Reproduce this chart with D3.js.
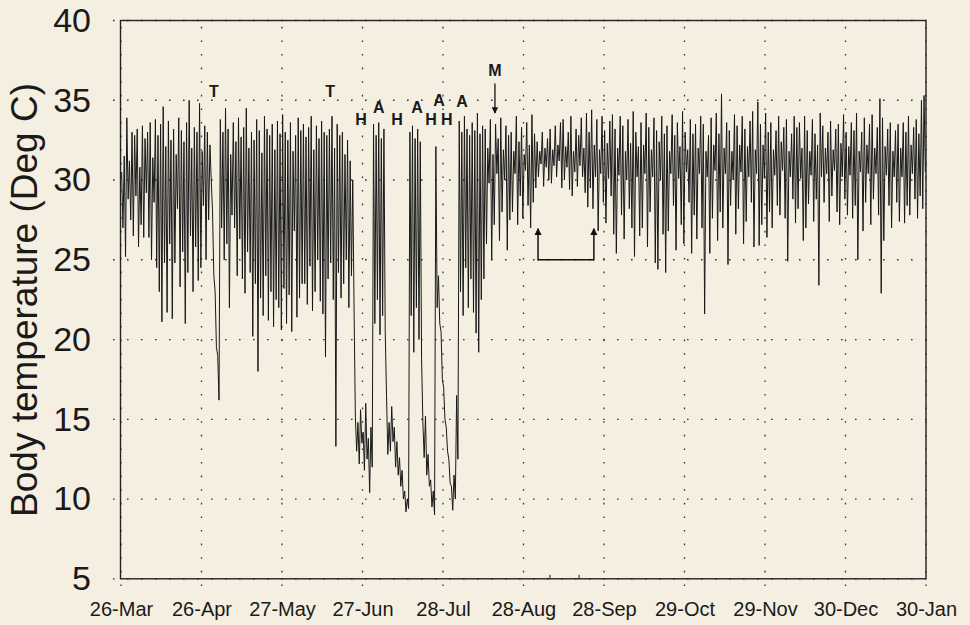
<!DOCTYPE html>
<html>
<head>
<meta charset="utf-8">
<script src="https://cdn.jsdelivr.net/npm/d3@7"></script>
<style>
  body { margin: 0; background: #f4efe1; }
  svg { display: block; }
  text { font-family: "Liberation Sans", Arial, Helvetica, sans-serif; fill: #1a1a1a; }
</style>
</head>
<body>
<div id="chart"></div>
<script>
// x axis: days since 26-Mar, one tick every 31 days
var tickDays = [0, 31, 62, 93, 124, 155, 186, 217, 248, 279, 310];
var tickLabels = ["26-Mar", "26-Apr", "27-May", "27-Jun", "28-Jul", "28-Aug",
                  "28-Sep", "29-Oct", "29-Nov", "30-Dec", "30-Jan"];
var tempTicks = [5, 10, 15, 20, 25, 30, 35, 40];

// daily maximum / minimum body temperature (deg C)
var dayHigh = [
  30.5, 31.5, 33.9, 31.2, 33.0, 32.8, 33.2, 30.8, 33.4, 32.6,
  33.0, 33.6, 31.4, 33.8, 32.8, 33.5, 34.6, 32.1, 33.7, 32.5,
  33.2, 31.6, 33.9, 33.1, 32.4, 33.6, 35.0, 32.0, 33.3, 33.0,
  34.8, 31.8, 33.4, 33.0, 32.2, 28.0, 23.0, 19.0, 33.8, 33.0,
  34.5, 33.2, 31.6, 33.6, 32.4, 33.9, 32.7, 33.3, 34.5, 32.0,
  33.0, 32.5, 33.8, 33.1, 31.7, 34.0, 33.2, 32.8, 33.5, 31.9,
  33.7, 32.9, 34.1, 33.0, 32.5, 33.6, 31.8, 32.8, 33.9, 33.1,
  33.5, 32.7, 33.3, 34.0, 31.9, 33.4, 32.6, 33.7, 33.0, 32.8,
  33.2, 34.0, 32.0, 33.5, 32.8, 33.0, 31.6, 32.5, 31.2, 30.0,
  15.2, 14.8, 15.6, 14.2, 16.0, 13.8, 14.5, 33.5, 32.8, 33.6,
  32.6, 33.2, 16.5, 14.8, 15.8, 14.5, 13.6, 12.6, 11.8, 10.5,
  10.0, 33.0, 33.4, 32.6, 33.2, 32.4, 14.8, 15.2, 12.8, 11.2,
  10.5, 32.1, 24.0, 20.5, 17.0, 14.5, 12.5, 10.8, 11.5, 16.5,
  33.7, 33.0, 34.0, 33.2, 32.8, 33.6, 33.1, 34.2, 32.9, 33.4,
  33.2, 32.0, 33.8, 31.6, 33.5, 32.6, 33.9, 31.9, 33.4, 32.8,
  33.0, 31.8, 34.0, 32.4, 33.3, 31.6, 33.6, 32.2, 34.1, 32.9,
  32.4, 31.8, 33.0, 32.0, 32.6, 33.2, 31.9, 33.4, 32.2, 33.6,
  33.8, 32.1, 33.0, 34.0, 31.8, 33.2, 32.8, 33.9, 32.0, 34.2,
  33.0, 34.4, 32.2, 33.8, 31.9, 34.0, 33.1, 32.3, 33.7, 34.1,
  33.2, 32.0, 34.0, 33.4, 31.8, 33.8, 32.3, 34.3, 33.0, 32.1,
  33.6, 32.2, 34.2, 33.3, 31.9, 33.9, 33.1, 32.4, 34.0, 32.9,
  33.4, 31.8, 34.1, 32.8, 33.6, 32.1, 34.3, 33.0, 31.9, 33.8,
  32.9, 33.5, 32.0, 34.0, 33.5, 31.8, 32.8, 33.9, 32.2, 34.2,
  32.9, 35.4, 32.0, 33.6, 33.1, 31.8, 34.1, 33.4, 32.2, 34.0,
  33.2, 32.1, 33.7, 34.3, 31.9, 34.9, 33.5, 32.2, 34.2, 33.0,
  33.6, 31.9, 33.1, 34.0, 32.4, 33.3, 33.8, 31.8, 32.9, 34.0,
  33.3, 33.6, 32.0, 34.0, 33.1, 31.8, 33.8, 32.9, 32.2, 34.2,
  33.4, 32.0, 33.0, 33.7, 31.9, 33.2, 33.5, 32.3, 34.1, 33.0,
  32.1, 33.6, 33.1, 34.2, 31.8, 33.0, 33.9, 32.2, 33.5, 34.1,
  32.0, 33.3, 35.1, 33.9, 32.1, 33.2, 33.6, 31.8, 33.1, 33.5,
  32.0, 33.6, 33.0, 34.0, 32.2, 33.3, 33.8, 32.9, 35.0, 35.3
];
var dayLow = [
  27.0, 25.2, 28.8, 27.5, 26.5, 29.0, 25.8, 27.2, 26.4, 29.2,
  26.4, 25.0, 28.6, 24.5, 23.0, 21.1, 24.8, 21.7, 26.0, 21.3,
  24.8, 28.2, 23.3, 25.5, 21.0, 24.2, 26.5, 23.0, 25.8, 23.7,
  24.5, 28.4, 25.0, 27.5, 30.0, 24.0, 19.5, 16.2, 27.0, 25.0,
  26.0, 22.0, 27.8, 27.0, 24.0, 26.3, 23.8, 22.9, 25.5, 24.2,
  20.2, 23.5, 18.0, 22.6, 21.5, 24.0, 21.2, 23.0, 20.8, 22.5,
  22.0, 20.6, 23.2, 21.0, 22.8, 20.5, 26.8, 21.4, 22.6, 23.5,
  23.5, 22.2, 24.6, 21.8, 23.0, 25.0, 22.4, 21.6, 18.9, 23.8,
  24.8, 22.5, 13.3, 24.2, 22.6, 23.5, 25.0, 22.0, 24.0, 22.0,
  13.0, 12.2, 13.5, 11.8, 12.5, 10.4, 12.0, 21.0, 22.5, 20.3,
  21.5, 20.5, 12.8, 13.0, 13.6, 12.0, 11.5, 10.8, 10.0, 9.2,
  9.4, 21.5, 19.2, 22.0, 20.0, 18.8, 12.6, 11.5, 10.8, 9.5,
  9.0, 22.0, 21.0, 17.5, 15.0, 13.0, 11.0, 9.3, 10.0, 12.5,
  23.0, 21.5, 24.5, 22.0, 23.8, 21.7, 20.4, 19.2, 22.5, 23.8,
  26.0, 29.8, 25.0, 27.2, 30.4, 26.2, 28.0, 30.0, 25.6, 27.5,
  28.0, 30.4, 27.2, 29.0, 27.6, 30.6, 28.4, 27.0, 28.6, 29.5,
  30.2, 31.0, 29.6, 30.8, 30.0, 29.8, 30.9, 30.2, 31.2, 29.5,
  30.0, 30.8, 29.4, 29.0, 30.5, 29.6, 30.9, 30.2, 29.2, 28.3,
  29.5, 28.2, 30.2, 26.8, 30.4, 28.6, 27.3, 30.1, 29.0, 26.6,
  25.4, 30.3, 27.8, 26.3, 30.0, 28.2, 27.0, 25.2, 30.2, 26.5,
  27.0, 30.4, 25.8, 28.0, 30.2, 24.8, 24.4, 30.0, 26.6, 24.2,
  26.8, 30.4, 28.4, 25.6, 30.1, 27.2, 26.0, 30.5, 28.6, 25.4,
  27.8, 26.3, 30.4, 27.0, 21.6, 30.2, 25.4, 27.6, 30.6, 26.2,
  28.0, 27.0, 30.4, 24.7, 28.4, 30.0, 26.6, 28.2, 30.5, 26.0,
  27.4, 30.2, 28.6, 25.8, 30.4, 25.9, 27.2, 30.1, 26.4, 28.0,
  27.0, 30.3, 28.4, 27.8, 30.6, 27.6, 24.9, 30.2, 28.8, 27.3,
  28.2, 30.1, 26.2, 27.0, 28.5, 30.3, 27.4, 28.8, 23.4, 30.2,
  28.6, 30.4, 27.4, 29.0, 30.6, 28.0, 27.2, 30.2, 28.8, 27.8,
  30.3, 27.6, 28.4, 25.0, 30.5, 26.8, 28.6, 30.4, 27.2, 28.8,
  30.4, 27.8, 22.9, 26.2, 30.3, 28.4, 27.0, 30.2, 28.6, 27.4,
  30.2, 27.3, 28.4, 27.8, 30.4, 28.8, 27.6, 29.0, 28.2, 30.5
];

// event labels (T, H = hibernation, A = arousal, M) at day / temperature
var noteText = ["T", "T", "H", "A", "H", "A", "H", "A", "H", "A", "M"];
var noteDay  = [35.8, 80.5, 92.4, 99.3, 106.3, 114.0, 119.4, 122.5, 125.5, 131.3, 144.0];
var noteTemp = [35.2, 35.2, 33.45, 34.2, 33.45, 34.2, 33.45, 34.65, 33.45, 34.6, 36.5];

// bracket under the trace (start day, end day) and two marks on the time axis
var bracketDays = [160.6, 182.1];
var edgeMarkDays = [165.2, 176.4];

var width = 970, height = 625;

var svg = d3.select("#chart")
    .append("svg")
    .attr("width", width)
    .attr("height", height);

var x = d3.scaleLinear().domain([0, 310]).range([121, 926]);
var y = d3.scaleLinear().domain([5, 40]).range([578.8, 20.5]);

// dotted grid, poking out a little past the frame
svg.append("g")
    .selectAll("line")
    .data(tempTicks)
    .enter()
    .append("line")
    .attr("x1", 113).attr("x2", x(310))
    .attr("y1", function(d) { return y(d); })
    .attr("y2", function(d) { return y(d); })
    .attr("stroke", "#333")
    .attr("stroke-width", 1.3)
    .attr("stroke-dasharray", "1.6,12.4");

svg.append("g")
    .selectAll("line")
    .data(tickDays)
    .enter()
    .append("line")
    .attr("x1", function(d) { return x(d); })
    .attr("x2", function(d) { return x(d); })
    .attr("y1", 586).attr("y2", y(40))
    .attr("stroke", "#333")
    .attr("stroke-width", 1.3)
    .attr("stroke-dasharray", "1.6,12");

// temperature trace: max then min for every day
var points = [];
dayHigh.forEach(function(h, i) {
    points.push([i + 0.25, h]);
    points.push([i + 0.75, dayLow[i]]);
});

var line = d3.line()
    .x(function(d) { return x(d[0]); })
    .y(function(d) { return y(d[1]); });

svg.append("path")
    .datum(points)
    .attr("d", line)
    .attr("fill", "none")
    .attr("stroke", "#181818")
    .attr("stroke-width", 1.0);

// frame
svg.append("rect")
    .attr("x", x(0) - 0.5).attr("y", y(40))
    .attr("width", x(310) - x(0) + 0.5)
    .attr("height", y(5) - y(40))
    .attr("fill", "none")
    .attr("stroke", "#222")
    .attr("stroke-width", 1.4);

// axes (labels only, grid is drawn above)
var yAxis = d3.axisLeft(y)
    .tickValues(tempTicks)
    .tickSize(0)
    .tickPadding(0);

var gy = svg.append("g")
    .attr("transform", "translate(91,0)")
    .call(yAxis);
gy.select(".domain").remove();
gy.selectAll("text")
    .attr("font-size", 34)
    .attr("fill", "#1a1a1a")
    .attr("font-family", "Liberation Sans, Arial, sans-serif");

var xAxis = d3.axisBottom(x)
    .tickValues(tickDays)
    .tickFormat(function(d, i) { return tickLabels[i]; })
    .tickSize(0)
    .tickPadding(0);

var gx = svg.append("g")
    .attr("transform", "translate(0,602)")
    .call(xAxis);
gx.select(".domain").remove();
gx.selectAll("text")
    .attr("font-size", 20)
    .attr("fill", "#1a1a1a")
    .attr("font-family", "Liberation Sans, Arial, sans-serif");

// small marks on the bottom edge
svg.append("g")
    .selectAll("line")
    .data(edgeMarkDays)
    .enter()
    .append("line")
    .attr("x1", function(d) { return x(d); })
    .attr("x2", function(d) { return x(d); })
    .attr("y1", y(5)).attr("y2", y(5) - 4)
    .attr("stroke", "#222");

// y title
svg.append("text")
    .attr("transform", "translate(37,300) rotate(-90)")
    .attr("text-anchor", "middle")
    .attr("font-size", 37)
    .text("Body temperature (Deg C)");

// event letters
svg.append("g")
    .selectAll("text")
    .data(noteText)
    .enter()
    .append("text")
    .attr("x", function(d, i) { return x(noteDay[i]); })
    .attr("y", function(d, i) { return y(noteTemp[i]); })
    .attr("text-anchor", "middle")
    .attr("font-size", 16)
    .attr("font-weight", "bold")
    .text(function(d) { return d; });

// M arrow
var defs = svg.append("defs");
defs.append("marker")
    .attr("id", "head")
    .attr("viewBox", "0 0 10 10")
    .attr("refX", 9).attr("refY", 5)
    .attr("markerWidth", 5).attr("markerHeight", 6)
    .attr("orient", "auto")
    .append("path")
    .attr("d", "M0,0 L10,5 L0,10 z")
    .attr("fill", "#111");

svg.append("line")
    .attr("x1", x(144.0)).attr("x2", x(144.0))
    .attr("y1", y(36.05)).attr("y2", y(34.2))
    .attr("stroke", "#111")
    .attr("stroke-width", 1.3)
    .attr("marker-end", "url(#head)");

// bracket with two upward arrows
svg.append("path")
    .attr("d", "M" + x(bracketDays[0]) + "," + y(25) +
               " L" + x(bracketDays[1]) + "," + y(25))
    .attr("fill", "none")
    .attr("stroke", "#111")
    .attr("stroke-width", 1.5);

bracketDays.forEach(function(d) {
    svg.append("line")
        .attr("x1", x(d)).attr("x2", x(d))
        .attr("y1", y(25) + 0.7).attr("y2", y(26.95))
        .attr("stroke", "#111")
        .attr("stroke-width", 1.5)
        .attr("marker-end", "url(#head)");
});
</script>
</body>
</html>
